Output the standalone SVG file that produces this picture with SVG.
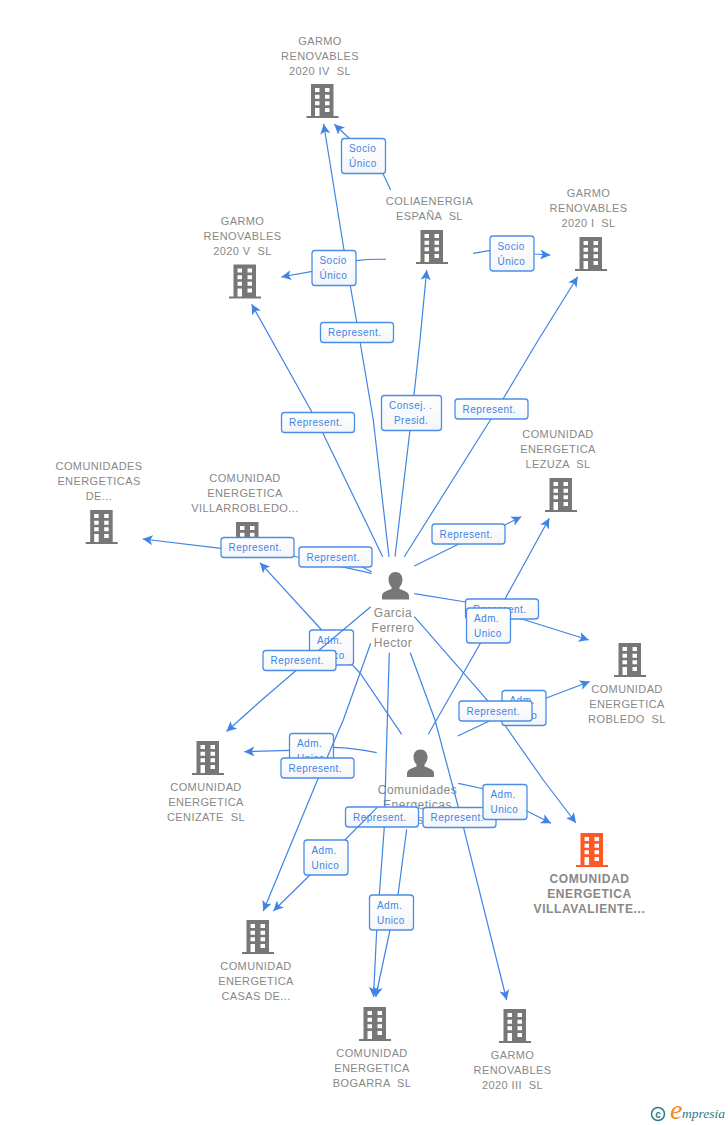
<svg xmlns="http://www.w3.org/2000/svg" width="728" height="1125" viewBox="0 0 728 1125">
<style>
.n{font:11px "Liberation Sans",Arial,sans-serif;letter-spacing:.4px;fill:#888;text-anchor:middle;white-space:pre}
.p{font:12px "Liberation Sans",Arial,sans-serif;letter-spacing:.5px;fill:#888;text-anchor:middle}
.b{font-weight:bold;font-size:12px;letter-spacing:.6px}
.c{fill:none;stroke:#3f84e5;stroke-width:1.2}
.a{marker-end:url(#arrow)}
.l rect{fill:url(#lg);stroke:#4a8de8;stroke-width:1.3}
.l text{font:10px "Liberation Sans",Arial,sans-serif;letter-spacing:.45px;fill:#3f84e5}
</style>
<defs>
<linearGradient id="lg" x1="0" y1="0" x2="0" y2="1"><stop offset="0" stop-color="#fff"/><stop offset="1" stop-color="#f4f5f8"/></linearGradient>
<marker id="arrow" viewBox="0 0 10 10" refX="10" refY="5" markerWidth="10" markerHeight="10" markerUnits="userSpaceOnUse" orient="auto"><path d="M10,5 L0,0 L2.5,5 L0,10 z" fill="#3f84e5"/></marker>
<path id="bld" fill-rule="evenodd" d="M4.5,0H27V32H32V34H0V32H4.5z M8.5,4v4h4.5V4z M18.5,4v4H23V4z M8.5,10.7v4h4.5v-4z M18.5,10.7v4H23v-4z M8.5,17.3v4h4.5v-4z M18.5,17.3v4H23v-4z M8.5,24v8h4.5V24z M18.5,24v4H23V24z"/>
<path id="per" d="M13.5,0C18,0 20.5,3.5 20.5,7.5C20.5,11 19,13.5 17.5,15V17C21,18.5 27,19.5 27,24V27.5H0V24C0,19.5 6,18.5 9.5,17V15C8,13.5 6.500,11 6.500,7.500C6.500,3.500 9,0 13.500,0z" fill="#777"/>
</defs>
<g id="n-iv"><use href="#bld" x="306.500" y="84" fill="#777"/><text class="n" x="320" y="44.500">GARMO</text><text class="n" x="320" y="59.500">RENOVABLES</text><text class="n" x="320" y="74.500">2020 IV  SL</text></g>
<g id="n-colia"><use href="#bld" x="416" y="230" fill="#777"/><text class="n" x="429.500" y="205">COLIAENERGIA</text><text class="n" x="429.500" y="220">ESPAÑA  SL</text></g>
<g id="n-i"><use href="#bld" x="575" y="237" fill="#777"/><text class="n" x="588.500" y="197">GARMO</text><text class="n" x="588.500" y="212">RENOVABLES</text><text class="n" x="588.500" y="227">2020 I  SL</text></g>
<g id="n-v"><use href="#bld" x="229" y="264.500" fill="#777"/><text class="n" x="242.500" y="225">GARMO</text><text class="n" x="242.500" y="240">RENOVABLES</text><text class="n" x="242.500" y="255">2020 V  SL</text></g>
<g id="n-de"><use href="#bld" x="85.700" y="510" fill="#777"/><text class="n" x="99" y="470">COMUNIDADES</text><text class="n" x="99" y="485">ENERGETICAS</text><text class="n" x="99" y="500">DE...</text></g>
<g id="n-villarrobledo"><use href="#bld" x="231.500" y="522" fill="#777"/><text class="n" x="245" y="482">COMUNIDAD</text><text class="n" x="245" y="497">ENERGETICA</text><text class="n" x="245" y="512">VILLARROBLEDO...</text></g>
<g id="n-lezuza"><use href="#bld" x="545" y="478" fill="#777"/><text class="n" x="558" y="438">COMUNIDAD</text><text class="n" x="558" y="453">ENERGETICA</text><text class="n" x="558" y="468">LEZUZA  SL</text></g>
<g id="n-robledo"><use href="#bld" x="614" y="643" fill="#777"/><text class="n" x="627" y="693">COMUNIDAD</text><text class="n" x="627" y="708">ENERGETICA</text><text class="n" x="627" y="723">ROBLEDO  SL</text></g>
<g id="n-cenizate"><use href="#bld" x="192" y="741" fill="#777"/><text class="n" x="206" y="791">COMUNIDAD</text><text class="n" x="206" y="806">ENERGETICA</text><text class="n" x="206" y="821">CENIZATE  SL</text></g>
<g id="n-villavaliente"><use href="#bld" x="576" y="833" fill="#ff5a26"/><text class="n b" x="589.500" y="883">COMUNIDAD</text><text class="n b" x="589.500" y="898">ENERGETICA</text><text class="n b" x="589.500" y="913">VILLAVALIENTE...</text></g>
<g id="n-iii"><use href="#bld" x="499" y="1009" fill="#777"/><text class="n" x="512.500" y="1059">GARMO</text><text class="n" x="512.500" y="1074">RENOVABLES</text><text class="n" x="512.500" y="1089">2020 III  SL</text></g>
<g id="n-casas"><use href="#bld" x="242" y="920" fill="#777"/><text class="n" x="256" y="970">COMUNIDAD</text><text class="n" x="256" y="985">ENERGETICA</text><text class="n" x="256" y="1000">CASAS DE...</text></g>
<g id="n-bogarra"><use href="#bld" x="359" y="1007" fill="#777"/><text class="n" x="372" y="1057">COMUNIDAD</text><text class="n" x="372" y="1072">ENERGETICA</text><text class="n" x="372" y="1087">BOGARRA  SL</text></g>
<g id="n-garcia"><use href="#per" x="382" y="572"/><text class="p" x="393" y="617">Garcia</text><text class="p" x="393" y="632">Ferrero</text><text class="p" x="393" y="647">Hector</text></g>
<g id="n-comunidades"><use href="#per" x="407" y="749.500"/><text class="p" x="417.500" y="794">Comunidades</text><text class="p" x="417.500" y="809">Energeticas</text><text class="p" x="420.500" y="824">s</text></g>
<g id="labels-under" class="l">
<rect x="309.500" y="630" width="44" height="35" rx="3"/><text x="317" y="644">Adm.</text><text x="317" y="659">Unico</text>
<rect x="289.500" y="733.500" width="44" height="35" rx="3"/><text x="297" y="747">Adm.</text><text x="297" y="762">Unico</text>
<rect x="345.500" y="807" width="73" height="20" rx="3"/><text x="353" y="820.500">Represent.</text>
</g>
<g id="connectors" class="c">
<path class="a" d="M382.700,556.700L318,423L251.700,304.300"/>
<path class="a" d="M389,557L373.300,420L356.700,322L344,250L323.700,124"/>
<path class="a" d="M395,556.700L412,413L420,340L426.700,270"/>
<path class="a" d="M404.300,556.700L491,419L503,399L538.300,340L577.700,276.700"/>
<path class="a" d="M414.300,566L459.300,543.700L504.700,525L521.300,516.700"/>
<path class="a" d="M414.300,593.700L465.700,602L519.300,618.300L588.800,640"/>
<path class="a" d="M414.300,616.700L488.300,701.300L503.300,723L543.300,780L576,823"/>
<path d="M389.300,652.700L384.800,806"/>
<path class="a" d="M384.300,827L379.300,895L376.700,930L373.500,997"/>
<path class="a" d="M410.300,652.700L435,720L458.300,807L463.300,826.700L506.700,1000"/>
<path class="a" d="M370.700,643.300L343.300,720L318.300,778L263.300,911"/>
<path class="a" d="M370.700,606.700L319.300,650L296.700,670L261.700,700L226.500,731.500"/>
<path class="a" d="M371.700,573.300L293,556L221,548.300L142.700,539"/>
<path d="M371.700,571.700L361.700,566.700L335,556"/>
<path d="M401.700,734.300L360,673L351.700,664.300"/>
<path class="a" d="M321.700,630L260,562.700"/>
<path class="a" d="M428.300,734.300L480.700,642.700L500,608L549.300,518.300"/>
<path class="a" d="M457.700,736L490,720.700L545.700,698.300L589.800,681.500"/>
<path d="M376.700,752.700Q355,748 333.300,747.300"/>
<path class="a" d="M289.700,750.300L244.300,751.700"/>
<path class="a" d="M377.300,807.300L310,875L273.300,911"/>
<path class="a" d="M406.700,829.300L398,895L390,930L375.700,997"/>
<path class="a" d="M458.300,783.300L483.300,788.700L527,811L551,823.300"/>
<path class="a" d="M390.700,190L382.700,173L349.700,138.700L334.300,124.300"/>
<path class="a" d="M385.700,259.300Q370,259 356,260.700L312.300,271.300L281.300,277"/>
<path class="a" d="M473.300,253.300L490.300,250.300L533.700,254L550.300,255"/>
</g>
<g id="labels" class="l">
<rect x="341.500" y="138.500" width="44" height="35" rx="3"/><text x="349" y="152">Socio</text><text x="349" y="167">Único</text>
<rect x="312" y="250.500" width="44" height="35" rx="3"/><text x="319.500" y="264">Socio</text><text x="319.500" y="279">Único</text>
<rect x="490" y="236" width="44" height="35" rx="3"/><text x="497.500" y="249.500">Socio</text><text x="497.500" y="264.500">Único</text>
<rect x="320.500" y="322.500" width="73" height="20" rx="3"/><text x="328" y="336">Represent.</text>
<rect x="281.500" y="412.500" width="73" height="20" rx="3"/><text x="289" y="426">Represent.</text>
<rect x="381.500" y="395.500" width="60" height="35" rx="3"/><text x="389" y="409">Consej. .</text><text x="394" y="424">Presid.</text>
<rect x="455" y="399" width="73" height="20" rx="3"/><text x="462.500" y="412.500">Represent.</text>
<rect x="299" y="547" width="73" height="20" rx="3"/><text x="306.500" y="560.500">Represent.</text>
<rect x="221" y="537.500" width="73" height="20" rx="3"/><text x="228.500" y="551">Represent.</text>
<rect x="263" y="650.500" width="73" height="20" rx="3"/><text x="270.500" y="664">Represent.</text>
<rect x="432" y="524" width="73" height="20" rx="3"/><text x="439.500" y="537.500">Represent.</text>
<rect x="465.500" y="599" width="73" height="20" rx="3"/><text x="473" y="612.500">Represent.</text>
<rect x="466.500" y="608" width="44" height="35" rx="3"/><text x="474" y="621.500">Adm.</text><text x="474" y="636.500">Unico</text>
<rect x="502" y="690.500" width="44" height="35" rx="3"/><text x="509.500" y="704">Adm.</text><text x="509.500" y="719">Unico</text>
<rect x="459" y="701" width="73" height="20" rx="3"/><text x="466.500" y="714.500">Represent.</text>
<rect x="281" y="758" width="73" height="20" rx="3"/><text x="288.500" y="771.500">Represent.</text>
<rect x="304" y="840" width="44" height="35" rx="3"/><text x="311.500" y="853.500">Adm.</text><text x="311.500" y="868.500">Unico</text>
<rect x="423" y="807.500" width="73" height="20" rx="3"/><text x="430.500" y="821">Represent.</text>
<rect x="483" y="784.500" width="44" height="35" rx="3"/><text x="490.500" y="798">Adm.</text><text x="490.500" y="813">Unico</text>
<rect x="369.500" y="895" width="44" height="35" rx="3"/><text x="377" y="908.500">Adm.</text><text x="377" y="923.500">Unico</text>
</g>
<g id="logo"><circle cx="658" cy="1114" r="6.500" fill="none" stroke="#2a7d8c" stroke-width="1.500"/><text x="658" y="1117.500" font-family="Liberation Sans,sans-serif" font-size="10" font-weight="bold" fill="#2a7d8c" text-anchor="middle">c</text><text x="670" y="1119" font-family="Liberation Serif,serif" font-style="italic" font-size="28" fill="#f28a1c">e</text><text x="682" y="1118" font-family="Liberation Serif,serif" font-style="italic" font-size="13.500" fill="#2a7d8c">mpresia</text></g>
</svg>
